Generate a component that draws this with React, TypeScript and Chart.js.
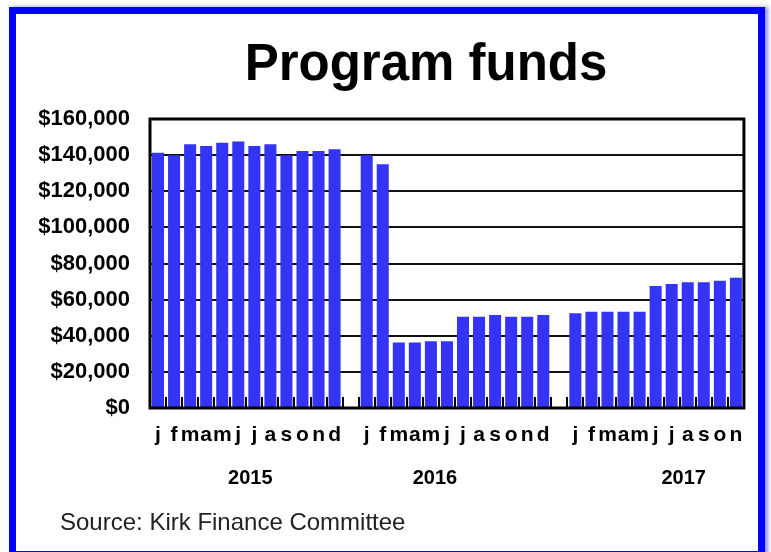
import { useEffect, useRef } from 'react';
import { Chart, registerables } from 'chart.js';

Chart.register(...registerables);

const months2015 = ['j', 'f', 'm', 'a', 'm', 'j', 'j', 'a', 's', 'o', 'n', 'd'];
const months2016 = ['j', 'f', 'm', 'a', 'm', 'j', 'j', 'a', 's', 'o', 'n', 'd'];
const months2017 = ['j', 'f', 'm', 'a', 'm', 'j', 'j', 'a', 's', 'o', 'n'];

const values2015 = [141300, 140000, 146000, 145000, 146800, 147600, 145000, 146000, 140000, 142300, 142300, 143200];
const values2016 = [140000, 135000, 36200, 36200, 37000, 37000, 50500, 50500, 51500, 50500, 50500, 51500];
const values2017 = [52400, 53300, 53300, 53300, 53300, 67500, 68600, 69600, 69600, 70500, 72100];

const yearLabels = ['2015', '2016', '2017'];
// positions of the year labels, counted in half-month steps along the axis
const yearHalfSlots = [12, 35, 66];

const yMin = 0;
const yMax = 160000;
const yStep = 20000;

const titleText = 'Program funds';
const sourceText = 'Source: Kirk Finance Committee';

const FONT = '"Liberation Sans", Arial, Helvetica, sans-serif';
const BAR = '#3434f5';

export default function App() {
  const ref = useRef<HTMLCanvasElement>(null);

  useEffect(() => {
    const labels = [...months2015, '', ...months2016, '', ...months2017];
    const data = [...values2015, null, ...values2016, null, ...values2017];
    const yearAxis: string[] = [];
    for (let i = 0; i < labels.length * 2; i++) {
      const k = yearHalfSlots.indexOf(i);
      yearAxis.push(k >= 0 ? yearLabels[k] : '');
    }

    const deco = {
      id: 'deco',
      afterDatasetsDraw(chart: any) {
        const { ctx, chartArea } = chart;
        const xs = chart.scales.x;
        const n = labels.length;
        const slot = (chartArea.right - chartArea.left) / n;
        ctx.save();
        ctx.strokeStyle = '#000';
        ctx.lineWidth = 2;
        for (let i = 1; i < n; i++) {
          const x = Math.round(xs.getPixelForTick(i) - slot / 2);
          ctx.beginPath();
          ctx.moveTo(x, chartArea.bottom);
          ctx.lineTo(x, chartArea.bottom - 11);
          ctx.stroke();
        }
        ctx.restore();
      },
      afterDraw(chart: any) {
        const { ctx, chartArea } = chart;
        ctx.save();
        ctx.strokeStyle = '#000';
        ctx.lineWidth = 3;
        ctx.strokeRect(chartArea.left, chartArea.top, chartArea.right - chartArea.left, chartArea.bottom - chartArea.top);
        ctx.fillStyle = '#000';
        ctx.textAlign = 'center';
        ctx.textBaseline = 'alphabetic';
        ctx.font = `bold 51px ${FONT}`;
        ctx.fillText(titleText, 410, 66);
        ctx.fillStyle = '#222';
        ctx.textAlign = 'left';
        ctx.font = `24px ${FONT}`;
        ctx.fillText(sourceText, 44, 516);
        ctx.restore();
      },
    };

    const monthFont = { family: FONT, size: 21, weight: 'bold' as const };
    const yearFont = { family: FONT, size: 20, weight: 'bold' as const };
    const yFont = { family: FONT, size: 22, weight: 'bold' as const };

    const chart = new Chart(ref.current as HTMLCanvasElement, {
      type: 'bar',
      data: {
        labels,
        datasets: [
          {
            data: data as any,
            backgroundColor: BAR,
            borderWidth: 0,
            barPercentage: 0.75,
            categoryPercentage: 1,
          },
        ],
      },
      options: {
        animation: false,
        responsive: false,
        maintainAspectRatio: false,
        layout: { padding: { left: 0, right: 14, top: 105, bottom: 0 } },
        plugins: {
          legend: { display: false },
          tooltip: { enabled: false },
          title: { display: false },
        },
        scales: {
          x: {
            type: 'category',
            position: 'bottom',
            weight: 1,
            grid: { display: false, drawTicks: false },
            border: { display: false },
            ticks: { autoSkip: false, maxRotation: 0, minRotation: 0, padding: 15, color: '#000', font: monthFont },
            afterFit(s: any) { s.height = 40; },
          },
          x2: {
            type: 'category',
            labels: yearAxis,
            position: 'bottom',
            weight: 2,
            offset: true,
            grid: { display: false, drawTicks: false },
            border: { display: false },
            ticks: { autoSkip: false, maxRotation: 0, minRotation: 0, padding: 18, color: '#000', font: yearFont },
            afterFit(s: any) { s.height = 103; },
          },
          y: {
            min: yMin,
            max: yMax,
            z: 1,
            grid: { color: '#111', lineWidth: 2, drawTicks: false },
            border: { display: false },
            ticks: {
              stepSize: yStep,
              padding: 20,
              color: '#000',
              font: yFont,
              callback: (v: any) => '$' + String(v).replace(/\B(?=(\d{3})+(?!\d))/g, ','),
            },
            afterFit(s: any) { s.width = 134; },
          },
        } as any,
      },
      plugins: [deco],
    });
    return () => chart.destroy();
  }, []);

  return (
    <div
      style={{
        position: 'absolute',
        left: 9,
        top: 7,
        width: 756,
        height: 551,
        boxSizing: 'border-box',
        border: '7px solid #0000ff',
        background: '#fff',
        boxShadow: '3px 0 4px rgba(110,110,255,0.8)',
      }}
    >
      <canvas ref={ref} width={742} height={537} style={{ display: 'block' }} />
    </div>
  );
}
